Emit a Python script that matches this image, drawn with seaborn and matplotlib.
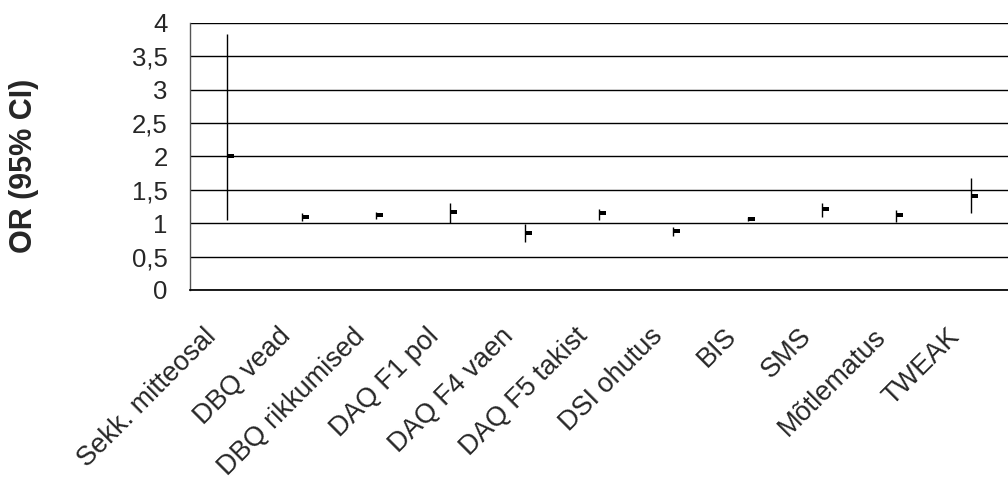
import numpy as np
import pandas as pd
import matplotlib
matplotlib.use("Agg")
import matplotlib.pyplot as plt
from matplotlib.path import Path
from matplotlib.markers import MarkerStyle
from matplotlib.ticker import FuncFormatter
from matplotlib.transforms import ScaledTranslation
import seaborn as sns

categories = ["Sekk. mitteosal", "DBQ vead", "DBQ rikkumised", "DAQ F1 pol",
              "DAQ F4 vaen", "DAQ F5 takist", "DSI ohutus", "BIS", "SMS",
              "Mõtlematus", "TWEAK"]
or_values = [2.01, 1.10, 1.12, 1.17, 0.86, 1.15, 0.88, 1.07, 1.21, 1.12, 1.41]
ci_low = [1.05, 1.03, 1.07, 1.01, 0.72, 1.05, 0.81, 1.03, 1.10, 1.02, 1.16]
ci_high = [3.83, 1.15, 1.17, 1.31, 0.99, 1.22, 0.95, 1.10, 1.31, 1.20, 1.68]
y_ticks = [0, 0.5, 1, 1.5, 2, 2.5, 3, 3.5, 4]

df = pd.DataFrame({"pos": np.arange(len(categories)), "OR": or_values,
                   "lo": ci_low, "hi": ci_high, "label": categories})

sns.set_theme(style="white")
plt.rcParams['font.family'] = ['Liberation Sans', 'DejaVu Sans']

fig = plt.figure(figsize=(10.08, 4.79), dpi=100)
ax = fig.add_axes([0.1885, 0.3946, 0.8115, 0.952 - 0.3946])

# horizontal gridlines
for v in y_ticks:
    ax.axhline(v, color="black", lw=1.0, zorder=0)

# CI lines
ax.vlines(df["pos"], df["lo"], df["hi"], color="black", lw=1.0, zorder=2)

# OR markers: small tick to the right of the CI line
verts = [(0, -0.25), (1, -0.25), (1, 0.25), (0, 0.25), (0, -0.25)]
codes = [Path.MOVETO, Path.LINETO, Path.LINETO, Path.LINETO, Path.CLOSEPOLY]
mk = MarkerStyle(Path(verts, codes))
sns.scatterplot(data=df, x="pos", y="OR", marker=mk, s=90, color="black",
                linewidth=0, ax=ax, zorder=3, legend=False)

ax.set_ylim(0, 4)
ax.set_xlim(-0.5, 10.39)
ax.set_yticks(y_ticks)
ax.yaxis.set_major_formatter(FuncFormatter(lambda v, p: (f"{v:g}").replace(".", ",")))
ax.set_xticks(np.arange(-0.5, 11, 1.0))
ax.set_xticklabels([])
ax.set_xticks(df["pos"], minor=True)
ax.set_xticklabels(categories, minor=True, rotation=45, ha="right", va="top",
                   rotation_mode="anchor", fontsize=19.5)
ax.tick_params(axis="x", which="minor", length=0, pad=24)
shift = ScaledTranslation(-24 / 100, 0, fig.dpi_scale_trans)
for lbl in ax.get_xticklabels(minor=True):
    lbl.set_transform(lbl.get_transform() + shift)
ax.tick_params(axis="x", which="major", direction="inout", length=17,
               width=1.0, color="#555555")
ax.tick_params(axis="y", direction="inout", length=14, width=1.0,
               color="#555555", labelsize=18.5, pad=9)

for s in ["top", "right"]:
    ax.spines[s].set_visible(False)
ax.spines["left"].set_color("#555555")
ax.spines["bottom"].set_color("black")
ax.spines["left"].set_linewidth(1.0)

ax.set_xlabel("")
ax.set_ylabel("OR (95% CI)", fontsize=22, fontweight="bold")
ax.yaxis.label.set_va("center")
ax.yaxis.label.set_ha("center")
ax.yaxis.set_label_coords(-0.203, 0.464)
ax.patch.set_alpha(0)

fig.savefig("out.png", dpi=100)
